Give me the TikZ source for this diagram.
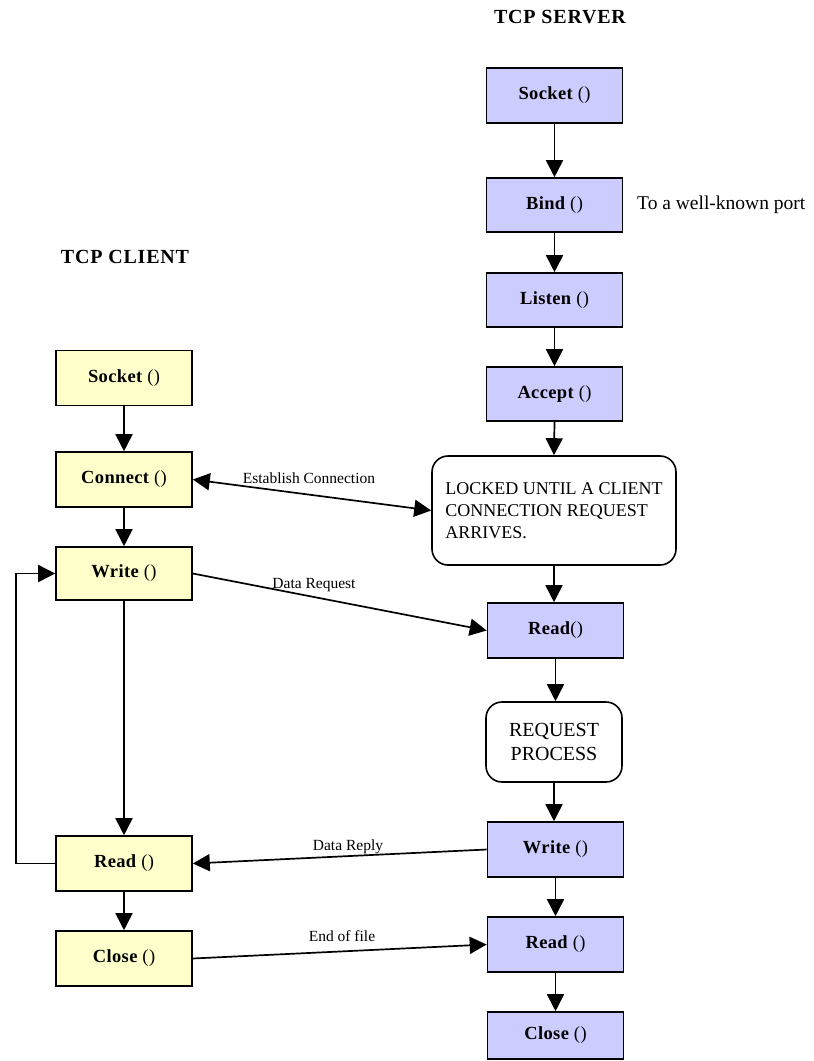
\documentclass[tikz,border=0pt]{standalone}
\usepackage{fontspec}
\setmainfont{Liberation Serif}
\usetikzlibrary{arrows.meta}
\definecolor{srvfill}{HTML}{CCCCFF}
\definecolor{clifill}{HTML}{FFFFCC}

\begin{document}
\begin{tikzpicture}[x=1pt,y=-1pt,
  box/.style={draw, line width=1.6pt, minimum width=136pt, minimum height=55pt,
    inner sep=0pt, font=\fontsize{18.5}{20}\selectfont\bfseries\addfontfeatures{LetterSpace=2}},
  srv/.style={box, fill=srvfill},
  cli/.style={box, fill=clifill},
  note/.style={draw, line width=1.6pt, rounded corners=16pt, fill=white, inner sep=0pt},
  flow/.style={line width=1.7pt, -{Triangle[length=17pt,width=17pt]}},
  both/.style={line width=1.7pt, {Triangle[length=17pt,width=17pt]}-{Triangle[length=17pt,width=17pt]}},
  lbl/.style={font=\fontsize{15.5}{17}\selectfont, inner sep=0pt},
  heading/.style={font=\fontsize{20}{22}\selectfont\bfseries\addfontfeatures{LetterSpace=4}, inner sep=0pt}]

\useasboundingbox (0,0) rectangle (814,1061);

% headings
\node[heading] (srvtitle) at (560,17) {TCP SERVER};
\node[heading] (clititle) at (125,257) {TCP CLIENT};

% server column
\node[srv] (sSocket) at (554.5,95.5) {Socket {\mdseries()}};
\node[srv, minimum height=54pt] (sBind) at (554.5,205) {Bind {\mdseries()}};
\node[anchor=west, font=\fontsize{19.5}{22}\selectfont, inner sep=0pt] (port) at (637,205) {To a well-known port};
\node[srv, minimum height=54pt] (sListen) at (554.5,300) {Listen {\mdseries()}};
\node[srv, minimum height=54pt] (sAccept) at (554.5,394) {Accept {\mdseries()}};
\node[note, minimum width=244pt, minimum height=109pt, align=left,
      font=\fontsize{18}{22}\selectfont] (sLocked) at (554,510.5)
  {LOCKED UNTIL A CLIENT\\CONNECTION REQUEST\\ARRIVES.};
\node[srv] (sRead) at (555.5,630.5) {Read{\mdseries()}};
\node[note, minimum width=136pt, minimum height=80pt, align=center,
      font=\fontsize{20}{24}\selectfont] (sProc) at (554,742) {REQUEST\\PROCESS};
\node[srv] (sWrite) at (555.5,849.5) {Write {\mdseries()}};
\node[srv] (sRead2) at (555.5,944.5) {Read {\mdseries()}};
\node[srv, minimum height=47pt] (sClose) at (555.5,1035.5) {Close {\mdseries()}};

% client column
\node[cli] (cSocket) at (124,378) {Socket {\mdseries()}};
\node[cli] (cConnect) at (124,479.5) {Connect {\mdseries()}};
\node[cli, minimum height=53pt] (cWrite) at (124,573.5) {Write {\mdseries()}};
\node[cli] (cRead) at (124,863.5) {Read {\mdseries()}};
\node[cli] (cClose) at (124,958.5) {Close {\mdseries()}};

% server flow
\draw[flow] (sSocket) -- (sBind);
\draw[flow] (sBind) -- (sListen);
\draw[flow] (sListen) -- (sAccept);
\draw[flow] (sAccept.south) -- (sLocked.north);
\draw[flow] (sLocked.south) -- (sRead.north -| sLocked.south);
\draw[flow] (sRead.south) -- (sProc.north -| sRead.south);
\draw[flow] (sProc.south) -- (sWrite.north -| sProc.south);
\draw[flow] (sWrite) -- (sRead2);
\draw[flow] (sRead2) -- (sClose);

% client flow
\draw[flow] (cSocket) -- (cConnect);
\draw[flow] (cConnect) -- (cWrite);
\draw[flow] (cWrite) -- (cRead);
\draw[flow] (cRead) -- (cClose);
\coordinate (loop) at (16,863.5);
\draw[flow] (cRead.west) -- (loop) |- (cWrite.west);

% messages between client and server
\draw[both] (cConnect.east) -- (sLocked.west);
\node[lbl] (lEst) at (309,478) {Establish Connection};
\draw[flow] (cWrite.east) -- (sRead.west);
\node[lbl] (lReq) at (314,585) {Data Request};
\draw[flow] (sWrite.west) -- (cRead.east);
\node[lbl] (lRep) at (348,847) {Data Reply};
\draw[flow] (cClose.east) -- (sRead2.west);
\node[lbl] (lEof) at (342,936) {End of file};

\end{tikzpicture}
\end{document}
